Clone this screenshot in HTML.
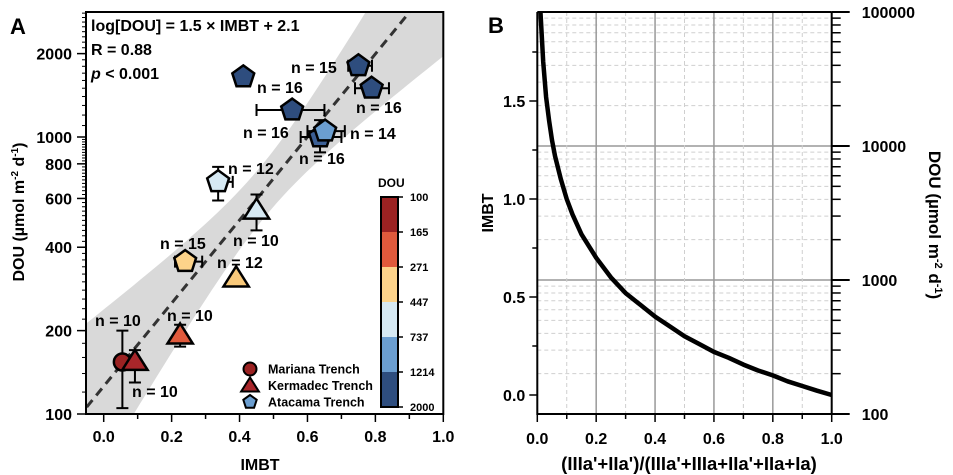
<!DOCTYPE html>
<html><head><meta charset="utf-8"><style>
html,body{margin:0;padding:0;background:#fff;overflow:hidden;width:953px;height:475px}
svg{display:block;font-family:"Liberation Sans",Arial,sans-serif;font-weight:bold}
</style></head><body>
<svg id="fig" width="953" height="475" viewBox="0 0 953 475">
<g id="pa"></g>
<g id="pb"></g>
</svg>
<script>
// ---------- Panel A data ----------
const aX=[0.055,0.092,0.225,0.39,0.45,0.24,0.337,0.411,0.555,0.75,0.789,0.637,0.652];
const aDOU=[154,155,193,310,545,355,689,1648,1251,1808,1500,1000,1050];
const aShape=["c","t","t","t","t","p","p","p","p","p","p","p","p"];
const aColor=["#9b2222","#a8262a","#e05a3c","#f9c97a","#d6e9f3","#fcd38a","#d6e9f3","#2e4d7e","#2e4d7e","#2e4d7e","#2e4d7e","#3b5f95","#6b9ed0"];
const aXlo=[null,null,null,null,null,0.21,0.32,null,0.45,0.72,0.74,0.58,0.60];
const aXhi=[null,null,null,null,null,0.29,0.38,null,0.65,0.79,0.84,0.70,0.71];
const aYlo=[105,130,175,null,460,null,590,null,null,null,null,880,null];
const aYhi=[200,170,210,null,620,null,780,null,null,null,null,1150,null];
const aLabel=["n = 10","n = 10","n = 10","n = 12","n = 10","n = 15","n = 12","n = 16","n = 16","n = 15","n = 16","n = 16","n = 14"];
const aLabX=[95,132,167,217,233,160,228,257,243,291,356,299,350];
const aLabY=[326,397,321,268,246,249,174,93,138,73,113,164,139];
const xTicksA=[0,0.2,0.4,0.6,0.8,1.0];
const yTicksA=[100,200,400,600,800,1000,2000];
const cbBounds=[100,165,271,447,737,1214,2000];
const cbColors=["#9b2222","#e05a3c","#fcd38a","#d6e9f3","#6b9ed0","#2e4d7e"];
// ---------- Panel B data ----------
const bX=[0.011,0.02,0.03,0.04,0.05,0.06,0.08,0.1,0.12,0.15,0.2,0.25,0.3,0.35,0.4,0.45,0.5,0.55,0.6,0.65,0.7,0.75,0.8,0.85,0.9,0.95,1.0];
const bY=[1.95,1.70,1.52,1.40,1.30,1.22,1.10,1.00,0.92,0.82,0.70,0.60,0.52,0.46,0.40,0.35,0.30,0.26,0.22,0.19,0.155,0.125,0.10,0.07,0.046,0.022,0];
const xTicksB=[0,0.2,0.4,0.6,0.8,1.0];
const yTicksB=[0,0.5,1.0,1.5];
const rTicksB=[100,1000,10000,100000];

const NS="http://www.w3.org/2000/svg";
function mk(p,tag,at,txt){const e=document.createElementNS(NS,tag);for(const k in at)e.setAttribute(k,at[k]);if(txt!==undefined)e.textContent=txt;p.appendChild(e);return e;}

// ===== Panel A =====
const A=document.getElementById('pa');
const L=86,R=443.3,T=12,B=414;
const xA=v=>103.7+v*339.6;
const yA=d=>414-(Math.log10(d)-2)*277;
let up=[],lo=[];
for(let i=0;i<=60;i++){const x=-0.05+i*1.05/60;const c=1.5*x+2.1;const hw=Math.sqrt(0.01+Math.pow(0.55*(x-0.47),2));up.push([xA(x),yA(Math.pow(10,c+hw))]);lo.push([xA(x),yA(Math.pow(10,c-hw))]);}
const pts=up.concat(lo.reverse()).map(p=>p[0].toFixed(1)+","+p[1].toFixed(1)).join(" ");
mk(A,'clipPath',{id:'clipA'});
mk(document.getElementById('clipA'),'rect',{x:L,y:T,width:R-L,height:B-T});
let band=mk(A,'polygon',{points:pts,fill:'#d9d9d9','clip-path':'url(#clipA)'});


let fit=mk(A,'line',{x1:xA(-0.05),y1:yA(Math.pow(10,2.025)),x2:xA(1),y2:yA(Math.pow(10,3.6)),stroke:'#333','stroke-width':3,'stroke-dasharray':'9,6','clip-path':'url(#clipA)'});


mk(A,'rect',{x:L,y:T,width:R-L,height:B-T,fill:'none',stroke:'#000','stroke-width':2});
xTicksA.forEach(v=>{mk(A,'line',{x1:xA(v),y1:B,x2:xA(v),y2:B+8,stroke:'#000','stroke-width':1.5});
 const t=mk(A,'text',{x:xA(v),y:B+28,'font-size':16,'text-anchor':'middle'},v.toFixed(1));
 });
[0.1,0.3,0.5,0.7,0.9].forEach(v=>mk(A,'line',{x1:xA(v),y1:B,x2:xA(v),y2:B+5,stroke:'#000','stroke-width':1.5}));
yTicksA.forEach(v=>{mk(A,'line',{x1:L-9,y1:yA(v),x2:L,y2:yA(v),stroke:'#000','stroke-width':1.5});
 const t=mk(A,'text',{x:L-14,y:yA(v)+6,'font-size':16,'text-anchor':'end'},v);
 });
for(let d=100;d<=2800;d+=(d<1000?20:100)){mk(A,'line',{x1:L-4,y1:yA(d),x2:L,y2:yA(d),stroke:'#000','stroke-width':1});}
let xt=mk(A,'text',{x:260,y:470,'font-size':16,'text-anchor':'middle'},'IMBT');

let yt=mk(A,'text',{transform:'translate(24,212) rotate(-90)','font-size':16,'text-anchor':'middle'});

yt.innerHTML='DOU (µmol m<tspan dy="-6" font-size="10">-2</tspan><tspan dy="6"> d</tspan><tspan dy="-6" font-size="10">-1</tspan><tspan dy="6">)</tspan>';
let pl=mk(A,'text',{x:10,y:34,'font-size':22},'A');
let eq=mk(A,'text',{x:91,y:31,'font-size':16},'log[DOU] = 1.5 × IMBT + 2.1');
let rr=mk(A,'text',{x:91,y:55,'font-size':16},'R = 0.88');
let pv=mk(A,'text',{x:91,y:79,'font-size':16});pv.innerHTML='<tspan font-style="italic">p</tspan> &lt; 0.001';

function shape(g,s,cx,cy,r,fill,sw){
 if(s==='c')return mk(g,'circle',{cx:cx,cy:cy,r:r,fill:fill,stroke:'#000','stroke-width':sw});
 if(s==='t'){const h=r*1.15;return mk(g,'polygon',{points:`${cx},${cy-h} ${cx+h*1.1},${cy+h*0.75} ${cx-h*1.1},${cy+h*0.75}`,fill:fill,stroke:'#000','stroke-width':sw});}
 let p=[];for(let k=0;k<5;k++){const a=-Math.PI/2+k*2*Math.PI/5;p.push((cx+r*Math.cos(a)).toFixed(1)+','+(cy+r*Math.sin(a)).toFixed(1));}
 return mk(g,'polygon',{points:p.join(' '),fill:fill,stroke:'#000','stroke-width':sw});
}
aX.forEach((v,i)=>{
 const g=mk(A,'g',{});
 
 
 const cx=xA(v),cy=yA(aDOU[i]);
 if(aXlo[i]!==null){const a=xA(aXlo[i]),b=xA(aXhi[i]);mk(g,'path',{d:`M${a},${cy}H${b}M${a},${cy-6}V${cy+6}M${b},${cy-6}V${cy+6}`,stroke:'#000','stroke-width':2,fill:'none'});}
 if(aYlo[i]!==null){const a=yA(aYlo[i]),b=yA(aYhi[i]);mk(g,'path',{d:`M${cx},${a}V${b}M${cx-6},${a}H${cx+6}M${cx-6},${b}H${cx+6}`,stroke:'#000','stroke-width':2,fill:'none'});}
 const r=aShape[i]==='c'?8.5:(aShape[i]==='t'?10:11.5);
 shape(g,aShape[i],cx,cy,r,aColor[i],2.5);
 const t=mk(A,'text',{x:aLabX[i],y:aLabY[i],'font-size':16},aLabel[i]);
 
 
});
const legN=["Mariana Trench","Kermadec Trench","Atacama Trench"],legS=["c","t","p"],legC=["#9b2222","#a8262a","#6b9ed0"];
legN.forEach((n,i)=>{const g=mk(A,'g',{});
 
 
 const y=369+i*16.5;shape(g,legS[i],250,y,i===0?6.5:7,legC[i],2);
 mk(g,'text',{x:268,y:y+4.5,'font-size':12.5},n);});
const cbx=381,cbw=17,cbt=197,cbb=407,bh=(cbb-cbt)/6;
cbColors.forEach((c,i)=>{const r=mk(A,'rect',{x:cbx,y:cbt+i*bh,width:cbw,height:bh,fill:c});
 });
mk(A,'rect',{x:cbx,y:cbt,width:cbw,height:cbb-cbt,fill:'none',stroke:'#000','stroke-width':2});
cbBounds.forEach((v,i)=>{const y=cbt+i*bh;mk(A,'line',{x1:cbx+cbw,y1:y,x2:cbx+cbw+5,y2:y,stroke:'#000','stroke-width':1.5});
 const t=mk(A,'text',{x:410,y:y+4,'font-size':11},v);});
let cbt2=mk(A,'text',{x:378,y:187,'font-size':12},'DOU');

// ===== Panel B =====
const P=document.getElementById('pb');
const bL=537.3,bR=831.7,bT=12,bB=414;
const xB=v=>bL+v*(bR-bL);
const yB=v=>395-v*196;
const rB=d=>414-(Math.log10(d)-2)*134;
for(let e=100;e<100000;e*=10){for(let m=2;m<=9;m++){const y=rB(e*m);mk(P,'line',{x1:bL,y1:y,x2:bR,y2:y,stroke:'#cfcfcf','stroke-width':1,'stroke-dasharray':'4,3'});}}
[1000,10000].forEach(d=>mk(P,'line',{x1:bL,y1:rB(d),x2:bR,y2:rB(d),stroke:'#999','stroke-width':1.5}));
[0.1,0.3,0.5,0.7,0.9].forEach(v=>mk(P,'line',{x1:xB(v),y1:bT,x2:xB(v),y2:bB,stroke:'#cfcfcf','stroke-width':1,'stroke-dasharray':'4,3'}));
[0.2,0.4,0.6,0.8].forEach(v=>mk(P,'line',{x1:xB(v),y1:bT,x2:xB(v),y2:bB,stroke:'#999','stroke-width':1.5}));
let cv=mk(P,'polyline',{points:bX.map((x,i)=>xB(x).toFixed(1)+','+yB(bY[i]).toFixed(1)).join(' '),fill:'none',stroke:'#000','stroke-width':4.5,'stroke-linejoin':'round'});

mk(P,'path',{d:`M${bL},${bT}H${bR}M${bL},${bT}V${bB}H${bR}V${bT}`,fill:'none',stroke:'#000','stroke-width':2});
xTicksB.forEach(v=>{mk(P,'line',{x1:xB(v),y1:bB,x2:xB(v),y2:bB+8,stroke:'#000','stroke-width':1.5});
 const t=mk(P,'text',{x:xB(v),y:bB+30,'font-size':16,'text-anchor':'middle'},v.toFixed(1));});
[0.1,0.3,0.5,0.7,0.9].forEach(v=>mk(P,'line',{x1:xB(v),y1:bB,x2:xB(v),y2:bB+5,stroke:'#000','stroke-width':1.5}));
yTicksB.forEach(v=>{mk(P,'line',{x1:bL-8,y1:yB(v),x2:bL,y2:yB(v),stroke:'#000','stroke-width':1.5});
 const t=mk(P,'text',{x:bL-12,y:yB(v)+6,'font-size':16,'text-anchor':'end'},v.toFixed(1));});
[0.25,0.75,1.25,1.75].forEach(v=>mk(P,'line',{x1:bL-5,y1:yB(v),x2:bL,y2:yB(v),stroke:'#000','stroke-width':1.5}));
rTicksB.forEach(v=>{mk(P,'line',{x1:bR,y1:rB(v),x2:bR+18,y2:rB(v),stroke:'#000','stroke-width':2});
 const t=mk(P,'text',{x:bR+30,y:rB(v)+6,'font-size':16},v);});
for(let e=100;e<100000;e*=10){for(let m=2;m<=9;m++){const y=rB(e*m);mk(P,'line',{x1:bR,y1:y,x2:bR+9,y2:y,stroke:'#000','stroke-width':1.5});}}
let bxt=mk(P,'text',{x:689,y:470,'font-size':18.5,'text-anchor':'middle'},"(IIIa'+IIa')/(IIIa'+IIIa+IIa'+IIa+Ia)");

let byt=mk(P,'text',{transform:'translate(493,213) rotate(-90)','font-size':16,'text-anchor':'middle'},'IMBT');

let ryt=mk(P,'text',{transform:'translate(929,225) rotate(90)','font-size':17,'text-anchor':'middle'});
ryt.innerHTML='DOU (µmol m<tspan dy="-6" font-size="11">-2</tspan><tspan dy="6"> d</tspan><tspan dy="-6" font-size="11">-1</tspan><tspan dy="6">)</tspan>';

let plb=mk(P,'text',{x:488,y:33,'font-size':22},'B');
</script>
</body></html>
